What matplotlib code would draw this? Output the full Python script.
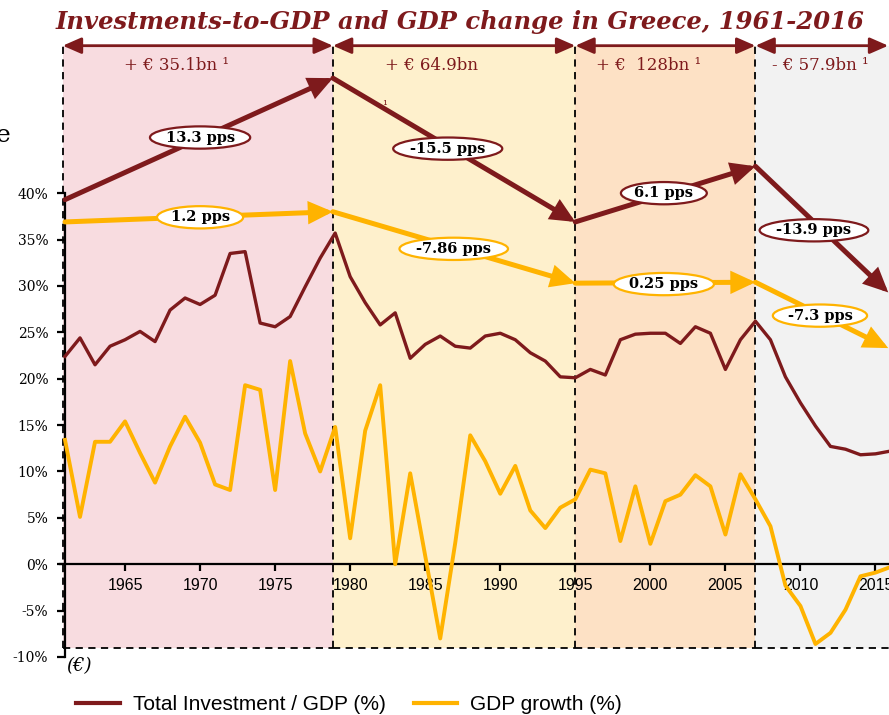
import matplotlib
matplotlib.use("Agg")
import matplotlib.pyplot as plt
from matplotlib.patches import Rectangle
from matplotlib.lines import Line2D

# data
years = list(range(1961, 2017))
investment = [22.4, 24.4, 21.5, 23.5, 24.2, 25.1, 24.0, 27.4, 28.7, 28.0,
              29.0, 33.5, 33.7, 26.0, 25.6, 26.7, 29.9, 33.0, 35.7, 31.0,
              28.2, 25.8, 27.1, 22.2, 23.7, 24.6, 23.5, 23.3, 24.6, 24.9,
              24.2, 22.8, 21.9, 20.2, 20.1, 21.0, 20.4, 24.2, 24.8, 24.9,
              24.9, 23.8, 25.6, 24.9, 21.0, 24.2, 26.2, 24.2, 20.2, 17.4,
              14.9, 12.7, 12.4, 11.8, 11.9, 12.2]
gdp_growth = [13.4, 5.1, 13.2, 13.2, 15.4, 12.0, 8.8, 12.7, 15.9, 13.1,
              8.6, 8.0, 19.3, 18.8, 8.0, 21.9, 14.1, 10.0, 14.8, 2.8,
              14.4, 19.3, 0.0, 9.8, 0.9, -8.0, 2.3, 13.9, 11.1, 7.6,
              10.6, 5.8, 3.9, 6.1, 7.0, 10.2, 9.8, 2.5, 8.4, 2.2,
              6.8, 7.5, 9.6, 8.4, 3.2, 9.7, 7.0, 4.1, -2.3, -4.5,
              -8.6, -7.4, -4.9, -1.3, -0.9, -0.3]

# periods
period_edges = [1960.85, 1978.85, 1995.0, 2007.0, 2020.0]
period_colors = ["#F8DCE0", "#FEF0CC", "#FDE1C5", "#F2F2F2"]
period_labels = ["+ € 35.1bn ¹", "+ € 64.9bn", "+ €  128bn ¹", "- € 57.9bn ¹"]
period_label_x = [1968.4, 1985.4, 1999.9, 2011.3]

# schematic trend arrows (offset above the data)
trend_x = [1961, 1978.85, 1995.0, 2007.0, 2015.85]
inv_trend_y = [39.3, 52.4, 36.9, 42.9, 29.3]
gdp_trend_y = [36.9, 38.0, 30.3, 30.4, 23.3]
inv_trend_labels = ["13.3 pps", "-15.5 pps", "6.1 pps", "-13.9 pps"]
inv_label_pos = [(1970.0, 46.0), (1986.5, 44.8), (2000.9, 40.0), (2010.9, 36.0)]
gdp_trend_labels = ["1.2 pps", "-7.86 pps", "0.25 pps", "-7.3 pps"]
gdp_label_pos = [(1970.0, 37.4), (1986.9, 34.0), (2000.9, 30.2), (2011.3, 26.8)]

DARKRED = "#7E1A1C"
ORANGE = "#FFB300"
SERIF = "DejaVu Serif"

fig = plt.figure(figsize=(8.89, 7.15), dpi=100)
ax = fig.add_axes([60.5 / 889, 1 - 657 / 715, 1 - 60.5 / 889, (657 - 26.2) / 715])
ax.set_xlim(1960.7, 2015.9)
ax.set_ylim(-10, 58)

top = 55.9
bottom = -9.0
for i in range(4):
    x0, x1 = period_edges[i], period_edges[i + 1]
    ax.add_patch(Rectangle((x0, bottom), x1 - x0, top - bottom, facecolor=period_colors[i],
                           edgecolor="none", zorder=0))
    ax.plot([x0, x1], [bottom, bottom], color="black", ls=(0, (4, 3)), lw=1.3, zorder=1)
    ax.plot([x0, x0], [bottom, top], color="black", ls=(0, (4, 3)), lw=1.3, zorder=1)
    # top double arrow
    ax.annotate("", xy=(min(x1, 2015.85), top), xytext=(x0, top),
                arrowprops=dict(arrowstyle="<|-|>,head_length=0.8,head_width=0.35",
                                color=DARKRED, lw=2, shrinkA=0, shrinkB=0,
                                mutation_scale=14), zorder=3)
    ax.text(period_label_x[i], 53.8, period_labels[i], color=DARKRED, fontsize=12,
            family=SERIF, ha="center", va="center")

ax.text(1982.3, 49.4, "¹", color=DARKRED, fontsize=9, family=SERIF, ha="center", va="center")

# data lines
ax.plot(years, investment, color=DARKRED, lw=2.4, zorder=4, solid_joinstyle="round")
ax.plot(years, gdp_growth, color=ORANGE, lw=2.8, zorder=4, solid_joinstyle="round")

# trend arrows
for trend_y, col in [(inv_trend_y, DARKRED), (gdp_trend_y, ORANGE)]:
    for i in range(4):
        ax.annotate("", xy=(trend_x[i + 1], trend_y[i + 1]), xytext=(trend_x[i], trend_y[i]),
                    arrowprops=dict(arrowstyle="-|>,head_length=0.75,head_width=0.35",
                                    color=col, lw=3.6, shrinkA=0, shrinkB=0,
                                    mutation_scale=16, joinstyle="miter"), zorder=5)

for labels, positions, col in [(inv_trend_labels, inv_label_pos, DARKRED),
                               (gdp_trend_labels, gdp_label_pos, ORANGE)]:
    for lab, (px, py) in zip(labels, positions):
        ax.text(px, py, lab, fontsize=10.5, fontweight="bold", family=SERIF, ha="center",
                va="center", zorder=6,
                bbox=dict(boxstyle="ellipse,pad=0.06", facecolor="white", edgecolor=col, lw=1.6))

# axes styling
for s in ["top", "right"]:
    ax.spines[s].set_visible(False)
ax.spines["left"].set_position(("data", 1961))
ax.spines["left"].set_bounds(-10, 40)
ax.spines["left"].set_linewidth(1.6)
ax.spines["left"].set_zorder(3)
ax.spines["bottom"].set_position(("data", 0))
ax.spines["bottom"].set_linewidth(1.6)
ax.spines["bottom"].set_zorder(3)

ax.set_yticks(range(-10, 41, 5))
ax.set_yticklabels([f"{v}%" for v in range(-10, 41, 5)], family=SERIF, fontsize=10)
ax.set_xticks(range(1965, 2016, 5))
ax.set_xticklabels([str(v) for v in range(1965, 2016, 5)], family="Liberation Sans", fontsize=11.5)
ax.tick_params(axis="y", direction="out", length=6, width=1.6, pad=6)
ax.tick_params(axis="x", direction="out", length=5, width=1.6, pad=5)

ax.text(1961.1, -11.0, "(€)", fontsize=13, style="italic", family=SERIF, ha="left", va="center")

fig.text(460 / 889, 1 - 22 / 715, "Investments-to-GDP and GDP change in Greece, 1961-2016",
         color=DARKRED, fontsize=17.5, fontweight="bold", style="italic", family=SERIF,
         ha="center", va="center")
fig.text(-4 / 889, 1 - 135 / 715, "e", fontsize=18, family=SERIF, ha="left", va="center")

handles = [Line2D([], [], color=DARKRED, lw=3), Line2D([], [], color=ORANGE, lw=3)]
fig.legend(handles, ["Total Investment / GDP (%)", "GDP growth (%)"], loc="center left",
           bbox_to_anchor=(66 / 889, 1 - 705 / 715), ncol=2, frameon=False,
           prop={"family": "Liberation Sans", "size": 15}, handlelength=2.1,
           columnspacing=1.35, handletextpad=0.6, borderpad=0)

fig.savefig("out.png", dpi=100)
